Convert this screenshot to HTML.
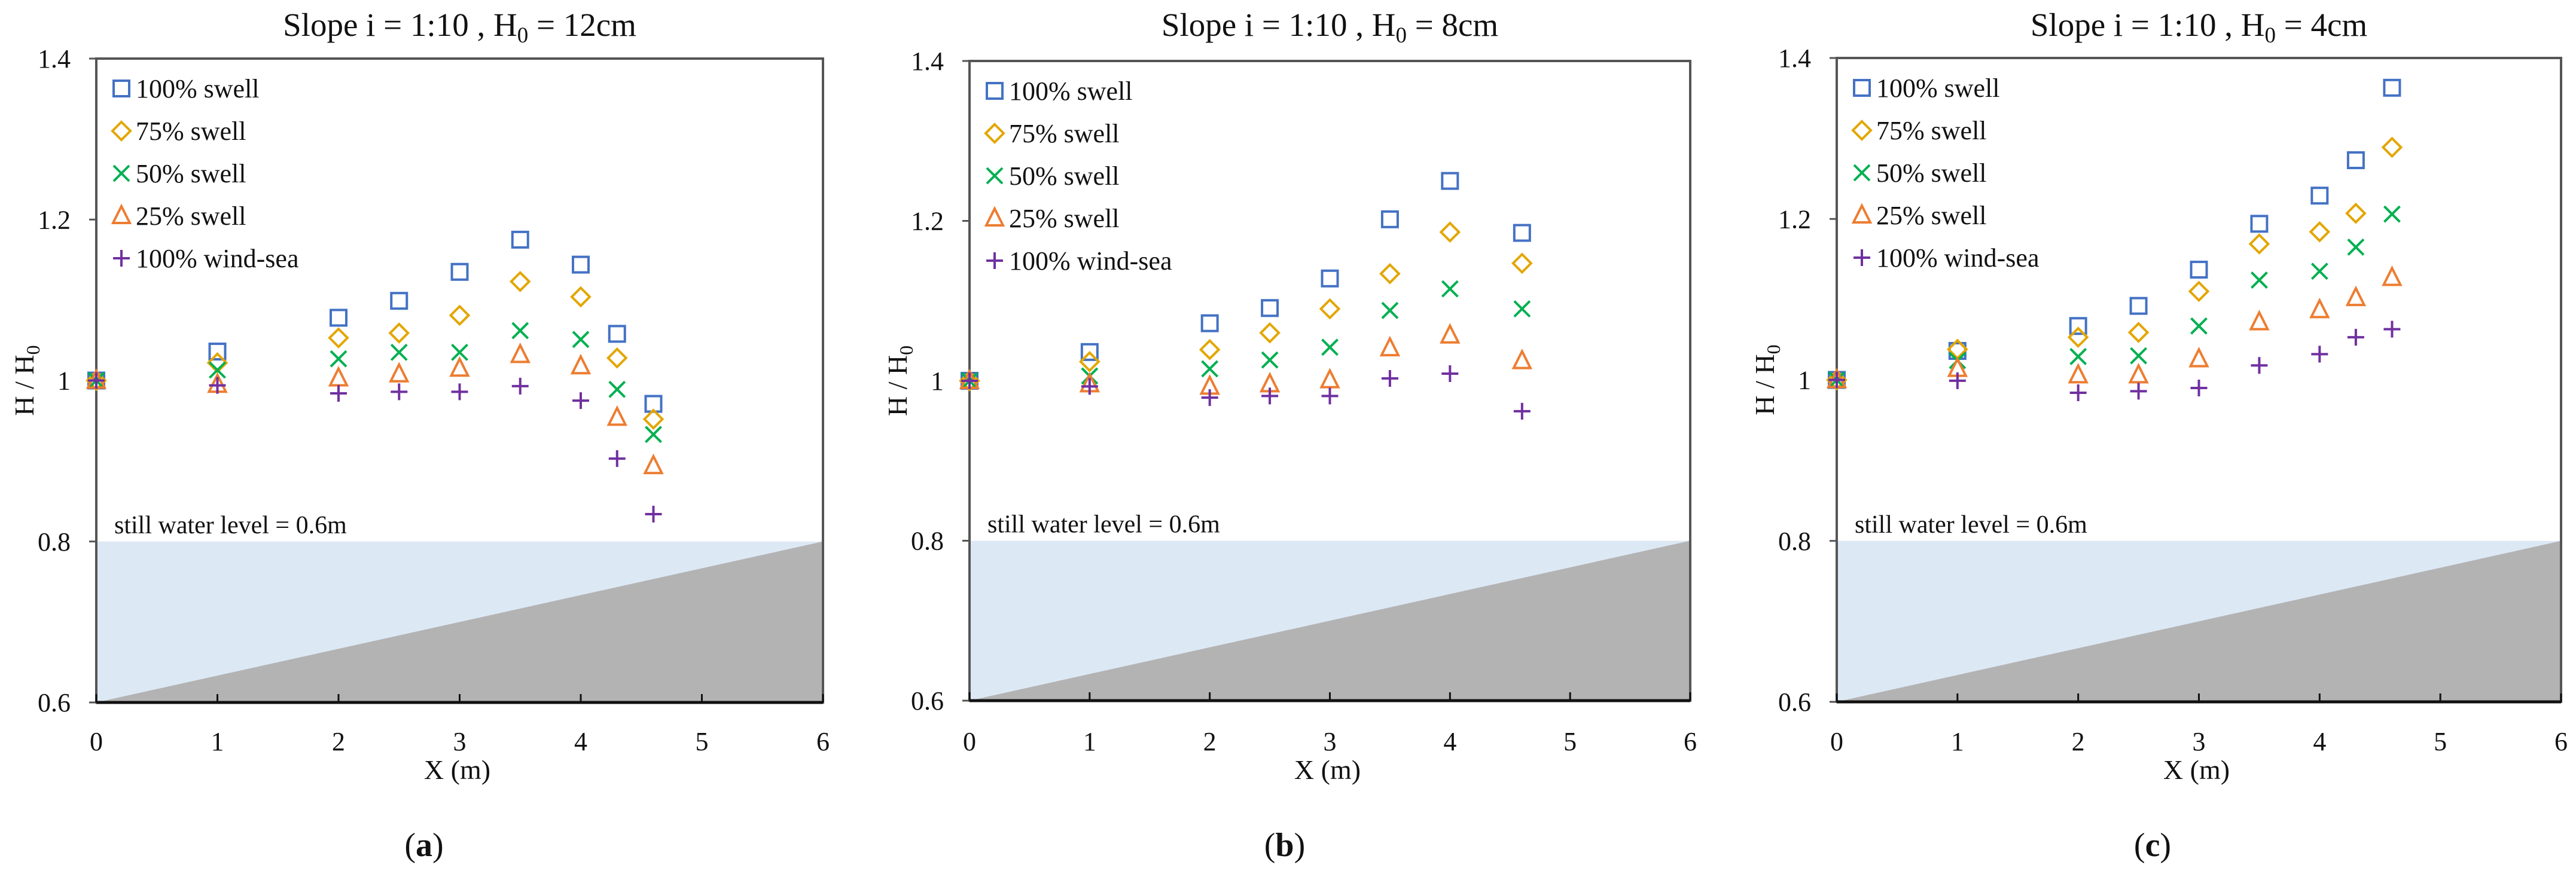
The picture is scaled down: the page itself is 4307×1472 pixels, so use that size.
<!DOCTYPE html>
<html><head><meta charset="utf-8"><style>
html,body{margin:0;padding:0;background:#fff;}
svg{display:block;font-family:"Liberation Serif",serif;}
</style></head><body>
<svg id="fig" width="4307" height="1472" viewBox="0 0 4307 1472" xmlns="http://www.w3.org/2000/svg"></svg>
<script>
// ---- data ----
const xA = [0,1,2,2.5,3,3.5,4,4.3,4.6];
const a_s100 = [1.0,1.036,1.078,1.099,1.135,1.175,1.144,1.058,0.971];
const a_s75  = [1.0,1.022,1.053,1.059,1.081,1.123,1.104,1.028,0.952];
const a_s50  = [1.0,1.013,1.027,1.035,1.035,1.062,1.051,0.989,0.933];
const a_s25  = [1.0,0.995,1.003,1.008,1.015,1.032,1.018,0.954,0.894];
const a_wind = [1.0,0.994,0.984,0.986,0.986,0.993,0.975,0.903,0.834];

const xB = [0,1,2,2.5,3,3.5,4,4.6];
const b_s100 = [1.0,1.036,1.072,1.091,1.128,1.202,1.250,1.185];
const b_s75  = [1.0,1.024,1.039,1.060,1.090,1.134,1.186,1.147];
const b_s50  = [1.0,1.006,1.015,1.026,1.042,1.088,1.115,1.090];
const b_s25  = [1.0,0.996,0.993,0.996,1.001,1.041,1.057,1.025];
const b_wind = [1.0,0.993,0.979,0.981,0.981,1.003,1.009,0.962];

const xC = [0,1,2,2.5,3,3.5,4,4.3,4.6];
const c_s100 = [1.0,1.036,1.067,1.092,1.137,1.194,1.229,1.273,1.363];
const c_s75  = [1.0,1.038,1.053,1.059,1.110,1.169,1.184,1.207,1.289];
const c_s50  = [1.0,1.024,1.029,1.030,1.067,1.124,1.135,1.165,1.206];
const c_s25  = [1.0,1.014,1.006,1.006,1.026,1.072,1.087,1.102,1.127];
const c_wind = [1.0,0.999,0.984,0.986,0.990,1.018,1.032,1.053,1.063];

const xTicks = [0,1,2,3,4,5,6];
const yTicks = [0.6,0.8,1.0,1.2,1.4];
const yTickLabels = ["0.6","0.8","1","1.2","1.4"];
const seriesNames = ["100% swell","75% swell","50% swell","25% swell","100% wind-sea"];
const titlesH0 = ["12cm","8cm","4cm"];
const panelLetters = ["a","b","c"];

// ---- layout ----
const NS="http://www.w3.org/2000/svg";
const svg=document.getElementById('fig');
function mk(tag,attrs,parent){const e=document.createElementNS(NS,tag);for(const k in attrs)e.setAttribute(k,attrs[k]);(parent||svg).appendChild(e);return e;}
const colors=["#4472C4","#E3A600","#00B050","#ED7D31","#7030A0"];
const kinds=["square","diamond","x","tri","plus"];
const panels=[
 {L:161,R:1376,T:98,B:1175,lab:709,x:xA,ys:[a_s100,a_s75,a_s50,a_s25,a_wind]},
 {L:1621,R:2826,T:102,B:1172,lab:2148,x:xB,ys:[b_s100,b_s75,b_s50,b_s25,b_wind]},
 {L:3071,R:4282,T:97,B:1174,lab:3599,x:xC,ys:[c_s100,c_s75,c_s50,c_s25,c_wind]}
];
function marker(g,kind,cx,cy,col){
  const s=13,w=4;
  let e;
  if(kind==="square") e=mk('rect',{x:cx-s,y:cy-s,width:2*s,height:2*s,fill:'none',stroke:col,'stroke-width':w},g);
  else if(kind==="diamond") e=mk('polygon',{points:`${cx},${cy-15} ${cx+15},${cy} ${cx},${cy+15} ${cx-15},${cy}`,fill:'none',stroke:col,'stroke-width':w},g);
  else if(kind==="x") e=mk('path',{d:`M${cx-13},${cy-13}L${cx+13},${cy+13}M${cx+13},${cy-13}L${cx-13},${cy+13}`,stroke:col,'stroke-width':w},g);
  else if(kind==="tri") e=mk('polygon',{points:`${cx},${cy-16} ${cx+14},${cy+12} ${cx-14},${cy+12}`,fill:'none',stroke:col,'stroke-width':w},g);
  else e=mk('path',{d:`M${cx-14},${cy}L${cx+14},${cy}M${cx},${cy-14}L${cx},${cy+14}`,stroke:col,'stroke-width':w},g);
  return e;
}
panels.forEach((p,pi)=>{
  const g=mk('g',{});
  
  
  const sx=v=>p.L+(v-0)/6*(p.R-p.L);
  const sy=v=>p.B-(v-0.6)/0.8*(p.B-p.T);
  const water=mk('rect',{x:p.L,y:sy(0.8),width:p.R-p.L,height:p.B-sy(0.8),fill:'#DDE8F5'},g);
  
  
  const ground=mk('polygon',{points:`${p.L},${p.B} ${p.R},${sy(0.8)} ${p.R},${p.B}`,fill:'#B3B3B3'},g);
  
  
  const fr=mk('rect',{x:p.L,y:p.T,width:p.R-p.L,height:p.B-p.T,fill:'none',stroke:'#555','stroke-width':4},g);
  
  
  mk('line',{x1:p.L,y1:p.B,x2:p.R,y2:p.B,stroke:'#111','stroke-width':5},g);
  const t=mk('text',{x:(p.L+p.R)/2,y:60,'text-anchor':'middle','font-size':55,fill:'#111'},g);
  
  
  t.innerHTML=`Slope i = 1:10 , H<tspan font-size="37" dy="11">0</tspan><tspan dy="-11"> = ${titlesH0[pi]}</tspan>`;
  yTicks.forEach((v,i)=>{
    mk('line',{x1:p.L-12,y1:sy(v),x2:p.L,y2:sy(v),stroke:'#555','stroke-width':3},g);
    const tl=mk('text',{x:p.L-43,y:sy(v)+15,'text-anchor':'end','font-size':44,fill:'#111'},g);
    
    
    tl.textContent=yTickLabels[i];
  });
  xTicks.forEach(v=>{
    mk('line',{x1:sx(v),y1:p.B-14,x2:sx(v),y2:p.B,stroke:'#111','stroke-width':3},g);
    const tl=mk('text',{x:sx(v),y:1255,'text-anchor':'middle','font-size':44,fill:'#111'},g);
    
    
    tl.textContent=String(v);
  });
  const xt=mk('text',{x:(p.L+p.R)/2-4,y:1303,'text-anchor':'middle','font-size':46,fill:'#111'},g);
  
  
  xt.textContent='X (m)';
  const yx=p.L-120, yy=(p.T+p.B)/2;
  const yt=mk('text',{x:yx,y:yy,'text-anchor':'middle','font-size':46,fill:'#111',transform:`rotate(-90 ${yx} ${yy})`,dy:15},g);
  
  
  yt.innerHTML='H / H<tspan font-size="32" dy="10">0</tspan>';
  const sw=mk('text',{x:p.L+30,y:sy(0.8)-14,'font-size':42,fill:'#111'},g);
  
  
  sw.textContent='still  water level = 0.6m';
  p.ys.forEach((ser,si)=>{
    const sg=mk('g',{},g);
    
    
    ser.forEach((v,i)=>{
      const m=marker(sg,kinds[si],sx(p.x[i]),sy(v),colors[si]);
      
      
    });
  });
  seriesNames.forEach((n,si)=>{
    const ly=p.T+50+si*71;
    const lg=mk('g',{},g);
    
    
    marker(lg,kinds[si],p.L+42,ly,colors[si]);
    const lt=mk('text',{x:p.L+66,y:ly+15,'font-size':44,fill:'#111'},lg);
    lt.textContent=n;
  });
  const pl=mk('text',{x:p.lab,y:1432,'text-anchor':'middle','font-size':56,fill:'#111'},g);
  
  
  pl.innerHTML=`(<tspan font-weight="bold">${panelLetters[pi]}</tspan>)`;
});
</script>
</body></html>
